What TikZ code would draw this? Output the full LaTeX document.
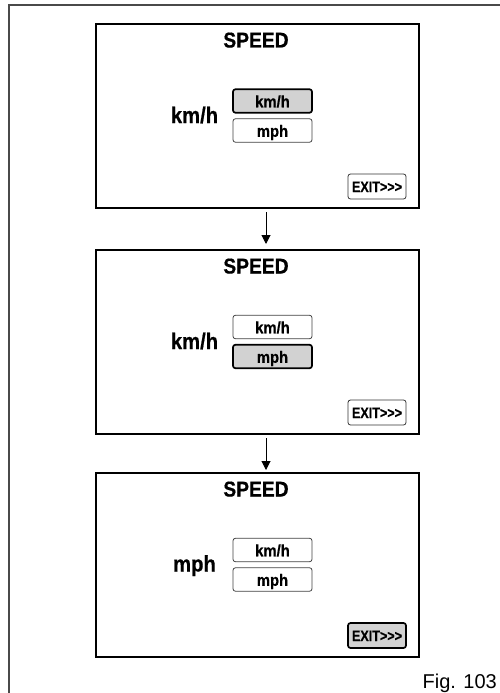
\documentclass[tikz,border=0pt]{standalone}
\usepackage{fontspec}
\setmainfont{Liberation Sans}
\newfontfamily\condfont{Liberation Sans}[FakeStretch=0.9, BoldFeatures={FakeBold=0.6}]
\newfontfamily\condxfont{Liberation Sans}[FakeStretch=0.84, BoldFeatures={FakeBold=0.5}]
\usetikzlibrary{arrows.meta}
\definecolor{selgray}{HTML}{D2D2D2}
\definecolor{framegray}{HTML}{4A4A4A}
\tikzset{
  screen/.style={draw, line width=1.8pt, minimum width=323pt, minimum height=184pt, inner sep=0pt, outer sep=0pt},
  title/.style={anchor=base, inner sep=0pt, font=\condfont\bfseries\fontsize{21.4}{21.4}\selectfont},
  unitlabel/.style={anchor=base, inner sep=0pt, font=\condfont\bfseries\fontsize{22.5}{22.5}\selectfont},
  btn/.style={draw=black!75, line width=0.8pt, rounded corners=2.5pt, minimum width=79pt, minimum height=23.5pt, inner sep=0pt, text height=13pt, text depth=0.5pt, font=\condfont\bfseries\fontsize{16.5}{16.5}\selectfont},
  selbtn/.style={btn, draw=black, fill=selgray, line width=1.7pt},
  exitbtn/.style={draw=black!80, line width=0.8pt, rounded corners=2.5pt, minimum width=58pt, minimum height=25pt, inner sep=0pt, text height=11pt, text depth=0pt, font=\condxfont\bfseries\fontsize{15}{15}\selectfont},
  selexit/.style={exitbtn, draw=black, fill=selgray, line width=1.7pt},
  arr/.style={line width=1pt, -{Triangle[length=9pt,width=9pt]}},
  frame/.style={draw=framegray, line width=1.6pt},
  figlabel/.style={anchor=base east, inner sep=0pt, font=\fontsize{20}{20}\selectfont}
}
\begin{document}
\begin{tikzpicture}[x=1pt,y=-1pt]
\useasboundingbox (0,0) rectangle (500,693);
% outer frame
\coordinate (fa) at (9,693);
\coordinate (fb) at (9,5);
\coordinate (fc) at (500,5);
\draw[frame] (fa) -- (fb) -- (fc);

% screen 1
\node[screen] (s1) at (257.5,116) {};
\node[title] (t1) at (256,47.5) {SPEED};
\node[unitlabel] (l1) at (194.5,123) {km/h};
\node[selbtn] (b1a) at (272.5,101) {km/h};
\node[btn] (b1b) at (272.5,130.5) {mph};
\node[exitbtn] (e1) at (377,186.5) {EXIT>>>};

% screen 2
\begin{scope}[shift={(0,226)}]
\node[screen] (s2) at (257.5,116) {};
\node[title] (t2) at (256,47.5) {SPEED};
\node[unitlabel] (l2) at (194.5,123) {km/h};
\node[btn] (b2a) at (272.5,101) {km/h};
\node[selbtn] (b2b) at (272.5,130.5) {mph};
\node[exitbtn] (e2) at (377,186.5) {EXIT>>>};
\end{scope}

% screen 3
\begin{scope}[shift={(0,449)}]
\node[screen] (s3) at (257.5,116) {};
\node[title] (t3) at (256,47.5) {SPEED};
\node[unitlabel] (l3) at (194.5,122.5) {mph};
\node[btn] (b3a) at (272.5,101) {km/h};
\node[btn] (b3b) at (272.5,130.5) {mph};
\node[selexit] (e3) at (377,186.5) {EXIT>>>};
\end{scope}

% arrows
\draw[arr, shorten <=4pt, shorten >=6pt] ([xshift=8.5pt]s1.south) -- ([xshift=8.5pt]s2.north);
\draw[arr, shorten <=4pt, shorten >=3pt] ([xshift=8.5pt]s2.south) -- ([xshift=8.5pt]s3.north);

\node[figlabel] (fig) at (497,688) {Fig. 103};
\end{tikzpicture}
\end{document}
